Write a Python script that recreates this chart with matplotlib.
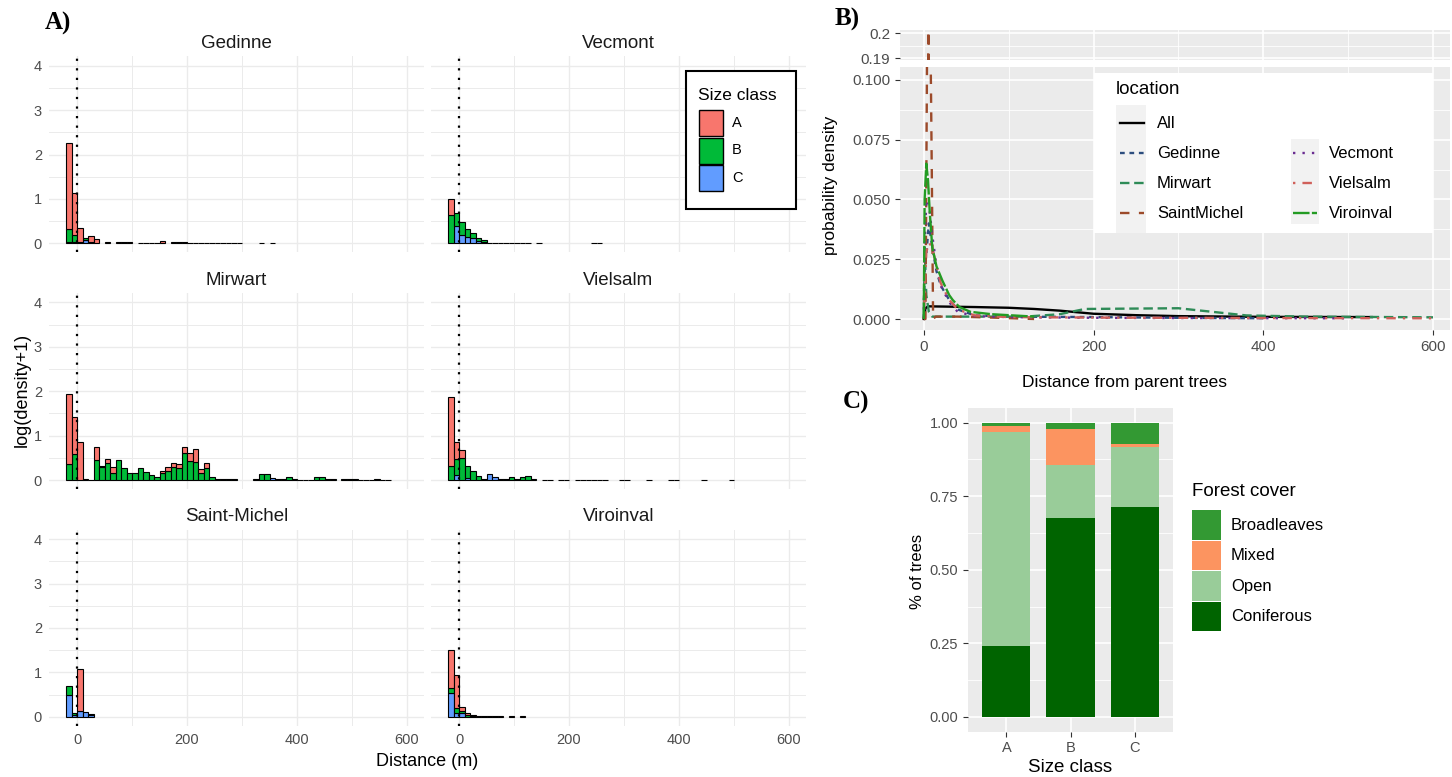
import numpy as np
import matplotlib
matplotlib.use("Agg")
import matplotlib.pyplot as plt
from matplotlib.patches import Rectangle
from matplotlib.lines import Line2D

plt.rcParams["font.family"] = ["Liberation Sans", "DejaVu Sans"]

W, H = 1452, 777

# ---------------- panel A: log(density+1) per 10 m bin, stacked by size class
bin_start = -19.5
bin_width = 10
n_bins = 62
size_classes = ["A", "B", "C"]
size_colors = ["#F8766D", "#00BA38", "#619CFF"]

gedinne_A = [1.94, 0.96, 0.30, 0, 0.14, 0.10, 0, 0.03, 0, 0.02, 0.02, 0.02, 0, 0.015, 0.015,
             0.015, 0.015, 0.05, 0, 0.02, 0.02, 0.02, 0.015, 0.015, 0.015, 0.015, 0.015, 0.015,
             0.015, 0.015, 0.015, 0.015, 0, 0, 0, 0.015, 0, 0.015]
gedinne_B = [0.29, 0.15, 0.04, 0.06, 0.02]
gedinne_C = [0.03, 0.03, 0, 0.07]

vecmont_A = [0.36]
vecmont_B = [0.64, 0.31, 0.28, 0.18, 0.11, 0.05, 0.04, 0.015, 0.015, 0.015, 0.015, 0.015,
             0.01, 0.01, 0.01, 0, 0.01, 0, 0, 0, 0, 0, 0, 0, 0, 0, 0.01, 0.01]
vecmont_C = [0, 0.38, 0.19, 0.15, 0.13, 0.06, 0.03]

mirwart_A = [1.56, 0.84, 0.86, 0.02, 0.01, 0.29, 0.03, 0.08, 0.15, 0, 0, 0, 0, 0, 0, 0, 0,
             0.06, 0.08, 0.09, 0.08, 0.14, 0.17, 0.29, 0.10, 0.13]
mirwart_B = [0.37, 0.58, 0, 0, 0, 0.46, 0.29, 0.39, 0.15, 0.46, 0.26, 0.165, 0.165, 0.28, 0.18,
             0.12, 0.075, 0.15, 0.21, 0.29, 0.28, 0.61, 0.43, 0.41, 0.15, 0.26, 0.075, 0.015,
             0.015, 0.015, 0.015, 0, 0, 0, 0.015, 0.13, 0.13, 0, 0.015, 0.015, 0.07, 0.02, 0.01,
             0.01, 0.01, 0.07, 0.07, 0.015, 0.015, 0, 0.02, 0.03, 0.02, 0.01, 0.01, 0.01, 0.03,
             0.01, 0.01]
mirwart_C = [0, 0, 0, 0, 0, 0, 0, 0, 0, 0, 0, 0, 0, 0, 0, 0, 0, 0, 0, 0, 0, 0, 0, 0, 0, 0, 0,
             0, 0, 0, 0, 0, 0, 0, 0, 0, 0, 0.05]

vielsalm_A = [1.54, 0.38, 0.17]
vielsalm_B = [0.32, 0.36, 0.50, 0.27, 0.21, 0.10, 0.03, 0, 0, 0.02, 0.015, 0.07, 0.02, 0.06,
              0.10, 0.02, 0, 0.01, 0.01, 0, 0.01, 0.01, 0, 0.01, 0.01, 0.01, 0.01, 0.01, 0.01,
              0, 0, 0.01, 0.01, 0, 0, 0, 0.01, 0, 0, 0, 0.01, 0.01, 0, 0, 0, 0, 0.01, 0, 0,
              0, 0, 0.01]
vielsalm_C = [0, 0.11, 0, 0.04, 0, 0, 0, 0.13, 0.06]

stmichel_A = [0, 0, 0.95]
stmichel_B = [0.20, 0.035, 0, 0, 0.03]
stmichel_C = [0.49, 0.04, 0.12, 0.11, 0.03]

viroinval_A = [0.85, 0.76, 0.10, 0.05, 0.02, 0.015, 0.015, 0.015, 0.015, 0.015, 0, 0.01, 0, 0.01]
viroinval_B = [0.12, 0.10, 0.05, 0.04, 0.02]
viroinval_C = [0.53, 0.09, 0.08]

# ---------------- panel B: probability density vs distance
loc_names = ["All", "Gedinne", "Mirwart", "SaintMichel", "Vecmont", "Vielsalm", "Viroinval"]
all_x = [0, 2, 5, 60, 100, 130, 160, 200, 250, 300, 400, 528]
all_y = [0, 0.0045, 0.0053, 0.005, 0.0047, 0.0042, 0.0035, 0.0022, 0.0016, 0.0012, 0.0009, 0.0008]
ged_x = [0, 1, 3, 6, 10, 15, 20, 30, 40, 60, 100, 200, 300, 400]
ged_y = [0, 0.02, 0.027, 0.04, 0.03, 0.02, 0.014, 0.008, 0.004, 0.0015, 0.001, 0.0008, 0.0005, 0.0003]
mir_x = [0, 1, 3, 6, 10, 20, 60, 120, 160, 190, 300, 340, 380, 450, 600]
mir_y = [0, 0.03, 0.01, 0.003, 0.001, 0.001, 0.001, 0.001, 0.002, 0.0042, 0.0045, 0.003, 0.0015,
         0.001, 0.0007]
stm_x = [0, 2, 5.5, 9.5, 11, 14, 40, 80, 130]
stm_y = [0, 0, 0.205, 0.06, 0.0, 0.001, 0.001, 0.0006, 0.0]
vec_x = [0, 1, 3, 6, 10, 15, 20, 30, 40, 60, 100, 200, 300, 500]
vec_y = [0, 0.03, 0.05, 0.048, 0.035, 0.022, 0.014, 0.007, 0.003, 0.0012, 0.0008, 0.0005, 0.0004, 0.0003]
vie_x = [0, 1, 3, 6, 10, 15, 20, 30, 40, 60, 100, 200, 400, 600]
vie_y = [0, 0.01, 0.028, 0.032, 0.03, 0.022, 0.015, 0.008, 0.004, 0.0015, 0.0008, 0.0006, 0.0004, 0.0003]
vir_x = [0, 1, 3, 5, 7, 10, 15, 22, 30, 34, 42, 55, 80, 130]
vir_y = [0, 0.05, 0.065, 0.058, 0.045, 0.03, 0.022, 0.016, 0.01, 0.008, 0.005, 0.003, 0.002, 0.001]
loc_colors = ["black", "#2C4D7E", "#2E8B57", "#9C4A2A", "#6A2C91", "#D0605A", "#239B23"]
loc_styles = ["-", (0, (2, 2)), (0, (4, 2)), (0, (4, 4)), (0, (1, 3)), (0, (1, 3, 4, 3)), (0, (7, 1))]

# ---------------- panel C: forest cover share per size class
cover_sizes = ["A", "B", "C"]
coniferous = [0.241, 0.677, 0.713]
open_cover = [0.728, 0.179, 0.204]
mixed = [0.020, 0.121, 0.009]
broadleaves = [0.011, 0.023, 0.074]
cover_names = ["Broadleaves", "Mixed", "Open", "Coniferous"]
cover_colors = {"Broadleaves": "#339933", "Mixed": "#FC9460", "Open": "#99CC99", "Coniferous": "#006400"}

fig = plt.figure(figsize=(W / 100, H / 100), dpi=100)


def add_ax(x0, y0, x1, y1):
    return fig.add_axes([x0 / W, 1 - y1 / H, (x1 - x0) / W, (y1 - y0) / H])


def padded(vals):
    v = np.zeros(n_bins)
    v[:len(vals)] = vals
    return v


# ---- panel A facets
facets = [("Gedinne", gedinne_A, gedinne_B, gedinne_C),
          ("Vecmont", vecmont_A, vecmont_B, vecmont_C),
          ("Mirwart", mirwart_A, mirwart_B, mirwart_C),
          ("Vielsalm", vielsalm_A, vielsalm_B, vielsalm_C),
          ("Saint-Michel", stmichel_A, stmichel_B, stmichel_C),
          ("Viroinval", viroinval_A, viroinval_B, viroinval_C)]
cols = [(49, 424), (431, 806)]
rows = [(56.4, 252.2), (293, 488.9), (529.8, 725.6)]
lefts = bin_start + bin_width * np.arange(n_bins)
grey30 = "#4D4D4D"
for i, (name, A, B, C) in enumerate(facets):
    r, c = divmod(i, 2)
    ax = add_ax(cols[c][0], rows[r][0], cols[c][1], rows[r][1])
    bottom = np.zeros(n_bins)
    for vals, col in [(C, size_colors[2]), (B, size_colors[1]), (A, size_colors[0])]:
        v = padded(vals)
        m = v > 0
        ax.bar(lefts[m], v[m], width=bin_width, bottom=bottom[m], align="edge",
               color=col, edgecolor="black", linewidth=0.8, zorder=2)
        bottom += v
    ax.axvline(0, color="black", ls=(0, (1, 3.3)), lw=1.6, zorder=3)
    ax.set_xlim(-51, 631)
    ax.set_ylim(-0.2, 4.21)
    ax.set_xticks([0, 200, 400, 600])
    ax.set_xticks([100, 300, 500], minor=True)
    ax.set_yticks([0, 1, 2, 3, 4])
    ax.set_yticks([0.5, 1.5, 2.5, 3.5], minor=True)
    ax.grid(which="major", color="#EBEBEB", lw=1.0)
    ax.grid(which="minor", color="#EBEBEB", lw=0.7)
    ax.set_axisbelow(True)
    for s in ax.spines.values():
        s.set_visible(False)
    ax.tick_params(which="both", length=0, labelsize=10.5, labelcolor=grey30, pad=5)
    if c == 1:
        ax.set_yticklabels([])
    if r < 2:
        ax.set_xticklabels([])
    ax.set_title(name, fontsize=13.5, color="#1A1A1A", pad=6)

# ---- panel B: broken y axis
main = add_ax(900, 67, 1450, 330)
top = add_ax(900, 30, 1450, 59.5)
series = [(all_x, all_y), (ged_x, ged_y), (mir_x, mir_y), (stm_x, stm_y),
          (vec_x, vec_y), (vie_x, vie_y), (vir_x, vir_y)]
for a in (main, top):
    a.set_facecolor("#EBEBEB")
    for s in a.spines.values():
        s.set_visible(False)
    a.set_xlim(-28, 620)
    a.set_xticks([0, 200, 400, 600])
    a.set_xticks([100, 300, 500], minor=True)
    a.grid(which="major", color="white", lw=1.2)
    a.grid(which="minor", color="white", lw=0.6)
    a.set_axisbelow(True)
    a.tick_params(which="major", length=3.5, color="#333333", labelsize=11, labelcolor=grey30)
    a.tick_params(which="minor", length=0)
    for (xs, ys), col, st in zip(series, loc_colors, loc_styles):
        a.plot(xs, ys, color=col, ls=st, lw=1.7)
main.set_ylim(-0.0046, 0.1054)
main.set_yticks([0, 0.025, 0.05, 0.075, 0.1])
main.set_yticklabels(["0.000", "0.025", "0.050", "0.075", "0.100"])
main.set_yticks([0.0125, 0.0375, 0.0625, 0.0875], minor=True)
top.set_ylim(0.1895, 0.2013)
top.set_yticks([0.19, 0.2])
top.set_yticklabels(["0.19", "0.2"])
top.set_yticks([0.195], minor=True)
top.tick_params(axis="x", length=0, labelbottom=False)

# ---- panel C
axc = add_ax(968, 408, 1173, 731.7)
axc.set_facecolor("#EBEBEB")
for s in axc.spines.values():
    s.set_visible(False)
xpos = np.arange(1, len(cover_sizes) + 1)
bottom = np.zeros(len(cover_sizes))
for vals, name in [(coniferous, "Coniferous"), (open_cover, "Open"), (mixed, "Mixed"),
                   (broadleaves, "Broadleaves")]:
    axc.bar(xpos, vals, width=0.75, bottom=bottom, color=cover_colors[name], linewidth=0, zorder=2)
    bottom += np.array(vals)
axc.set_xlim(0.4, 3.6)
axc.set_ylim(-0.05, 1.05)
axc.set_xticks(xpos)
axc.set_xticklabels(cover_sizes)
axc.set_yticks([0, 0.25, 0.5, 0.75, 1.0])
axc.set_yticklabels(["0.00", "0.25", "0.50", "0.75", "1.00"])
axc.set_yticks([0.125, 0.375, 0.625, 0.875], minor=True)
axc.grid(which="major", color="white", lw=1.2)
axc.grid(which="minor", axis="y", color="white", lw=0.6)
axc.set_axisbelow(True)
axc.tick_params(which="major", length=3.5, color="#333333", labelsize=10.5, labelcolor=grey30)
axc.tick_params(which="minor", length=0)

# ---- overlay for labels and legends (pixel coordinates)
ov = fig.add_axes([0, 0, 1, 1])
ov.set_xlim(0, W)
ov.set_ylim(H, 0)
ov.axis("off")

serif = ["Liberation Serif", "DejaVu Serif"]
ov.text(45, 23, "A)", family=serif, weight="bold", fontsize=18, va="center")
ov.text(835, 19, "B)", family=serif, weight="bold", fontsize=18, va="center")
ov.text(843, 402, "C)", family=serif, weight="bold", fontsize=18, va="center")

ov.text(427.5, 762, "Distance (m)", fontsize=13, ha="center", va="center")
ov.text(22, 390, "log(density+1)", fontsize=13, ha="center", va="center", rotation=90)
ov.text(1125, 383, "Distance from parent trees", fontsize=12.5, ha="center", va="center")
ov.text(830, 185, "probability density", fontsize=12.5, ha="center", va="center", rotation=90)
ov.text(1070.5, 767, "Size class", fontsize=13.5, ha="center", va="center")
ov.text(918, 571, "% of trees", fontsize=12, ha="center", va="center", rotation=90)

# size class legend
ov.add_patch(Rectangle((686, 71), 110, 138, facecolor="white", edgecolor="black", lw=1.5))
ov.text(698, 95, "Size class", fontsize=12.5, va="center")
for k, (lab, col) in enumerate(zip(size_classes, size_colors)):
    y0 = 110 + 27.5 * k
    ov.add_patch(Rectangle((699, y0), 24, 26, facecolor=col, edgecolor="black", lw=1.0))
    ov.text(732, y0 + 13, lab, fontsize=10.5, va="center")

# location legend
ov.add_patch(Rectangle((1094, 73), 339, 160, facecolor="white", edgecolor="none"))
ov.text(1116, 89, "location", fontsize=13.5, va="center")
ov.add_patch(Rectangle((1116, 105), 30, 128, facecolor="#F2F2F2", edgecolor="none"))
ov.add_patch(Rectangle((1291, 139), 28, 85, facecolor="#F2F2F2", edgecolor="none"))
leg_pos = [(1120, 123, 0), (1120, 153, 0), (1120, 183, 0), (1120, 213, 0),
           (1293, 153, 1), (1293, 183, 1), (1293, 213, 1)]
for (kx, ky, col_i), name, colr, st in zip(leg_pos, loc_names, loc_colors, loc_styles):
    ov.add_line(Line2D([kx, kx + 24], [ky, ky], color=colr, ls=st, lw=1.7))
    lx = 1157 if col_i == 0 else 1329
    ov.text(lx, ky, name, fontsize=12, va="center")

# forest cover legend
ov.text(1192, 492, "Forest cover", fontsize=13.5, va="center")
for k, name in enumerate(cover_names):
    y0 = 510 + 30.5 * k
    ov.add_patch(Rectangle((1192, y0), 29, 29.5, facecolor=cover_colors[name], edgecolor="none"))
    ov.text(1231, y0 + 15, name, fontsize=12, va="center")

fig.savefig("out.png", dpi=100)
